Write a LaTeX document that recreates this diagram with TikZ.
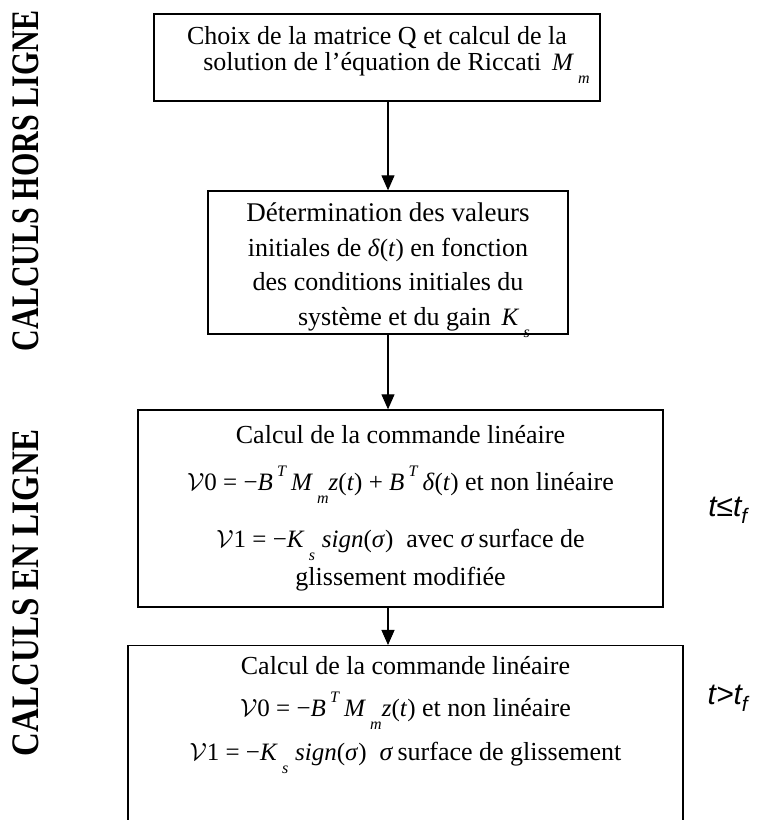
\documentclass[tikz,border=0pt]{standalone}
\usepackage{fontspec}
\setmainfont{Liberation Serif}
\newfontfamily\labelfont{Liberation Sans}
\usetikzlibrary{arrows.meta}

\newcommand{\up}[1]{\smash{\raisebox{0.55em}{\fontsize{16}{16}\selectfont\textit{#1}}}}
\newcommand{\dn}[1]{\smash{\raisebox{-0.5em}{\fontsize{16}{16}\selectfont\textit{#1}}}}
\newcommand{\eqn}[1]{{\fontsize{25}{25}\selectfont #1}}
\newcommand{\vv}[1]{{\fontsize{27}{27}\selectfont$\mathcal{V}$}#1}

\begin{document}
\begin{tikzpicture}[x=1pt, y=1pt, font=\fontsize{26}{26}\selectfont,
  box/.style={draw, line width=1.3pt, align=flush center, inner sep=0pt},
  flow/.style={-{Triangle[width=13pt,length=15pt]}, line width=1.1pt},
  side/.style={rotate=90, font=\bfseries\fontsize{30}{30}\selectfont}]
\useasboundingbox (0,0) rectangle (762,820);

% calculs hors ligne
\node[box, minimum width=446pt, minimum height=87pt] (riccati) at (377,762.5)
  {Choix de la matrice Q et calcul de la\\
   \hspace*{1.5em}solution de l’équation de Riccati \,\eqn{\textit{M}\,\dn{m}}\rule[-18pt]{0pt}{0pt}};
\node[box, minimum width=360pt, minimum height=143pt] (valeurs) at (388,557.5)
  {\fontsize{27}{26}\selectfont\rule{0pt}{28pt}Détermination des valeurs\\[8.5pt]
   initiales de \eqn{\textit{δ}(\textit{t})} en fonction\\[8.5pt]
   des conditions initiales du\\[8.5pt]
   \hspace*{2em}système et du gain \,\eqn{\textit{K}\,\dn{s}}};

% calculs en ligne
\node[box, minimum width=525pt, minimum height=197pt] (commande) at (400.5,311.5)
  {Calcul de la commande linéaire\\[21pt]
   \eqn{\vv{0} = −\textit{B}\,\up{T}\,\textit{M}\,\dn{m}\textit{z}(\textit{t}) + \textit{B}\,\up{T}\,\textit{δ}(\textit{t})} et non linéaire\\[31pt]
   \eqn{\vv{1} = −\textit{K}\,\dn{s}\;\textit{sign}(\textit{σ})}\enspace avec \textit{σ}\,surface de\\[12pt]
   glissement modifiée};
\node[box, anchor=north, text width=555pt, text height=29pt, text depth=160pt] (commandefin) at (405.5,175)
  {Calcul de la commande linéaire\\[16pt]
   \eqn{\vv{0} = −\textit{B}\,\up{T}\,\textit{M}\,\dn{m}\textit{z}(\textit{t})} et non linéaire\\[18pt]
   \eqn{\vv{1} = −\textit{K}\,\dn{s}\;\textit{sign}(\textit{σ})}\enspace\textit{σ}\,surface de glissement};

\draw[flow] (riccati.south -| valeurs.north) -- (valeurs.north);
\draw[flow] (valeurs.south) -- (valeurs.south |- commande.north);
\draw[flow] (commande.south -| valeurs.south) -- (valeurs.south |- commandefin.north);

\node[side, yscale=1.3] (horsligne) at (26,639) {CALCULS HORS LIGNE};
\node[side, font=\bfseries\fontsize{33}{33}\selectfont, yscale=1.18] (enligne) at (26,227) {CALCULS EN LIGNE};

\node[font=\labelfont\itshape\fontsize{30}{30}\selectfont] (avant) at (728,310) {t≤t\textsubscript{f}};
\node[font=\labelfont\itshape\fontsize{30}{30}\selectfont] (apres) at (728,122) {t>t\textsubscript{f}};
\end{tikzpicture}
\end{document}
